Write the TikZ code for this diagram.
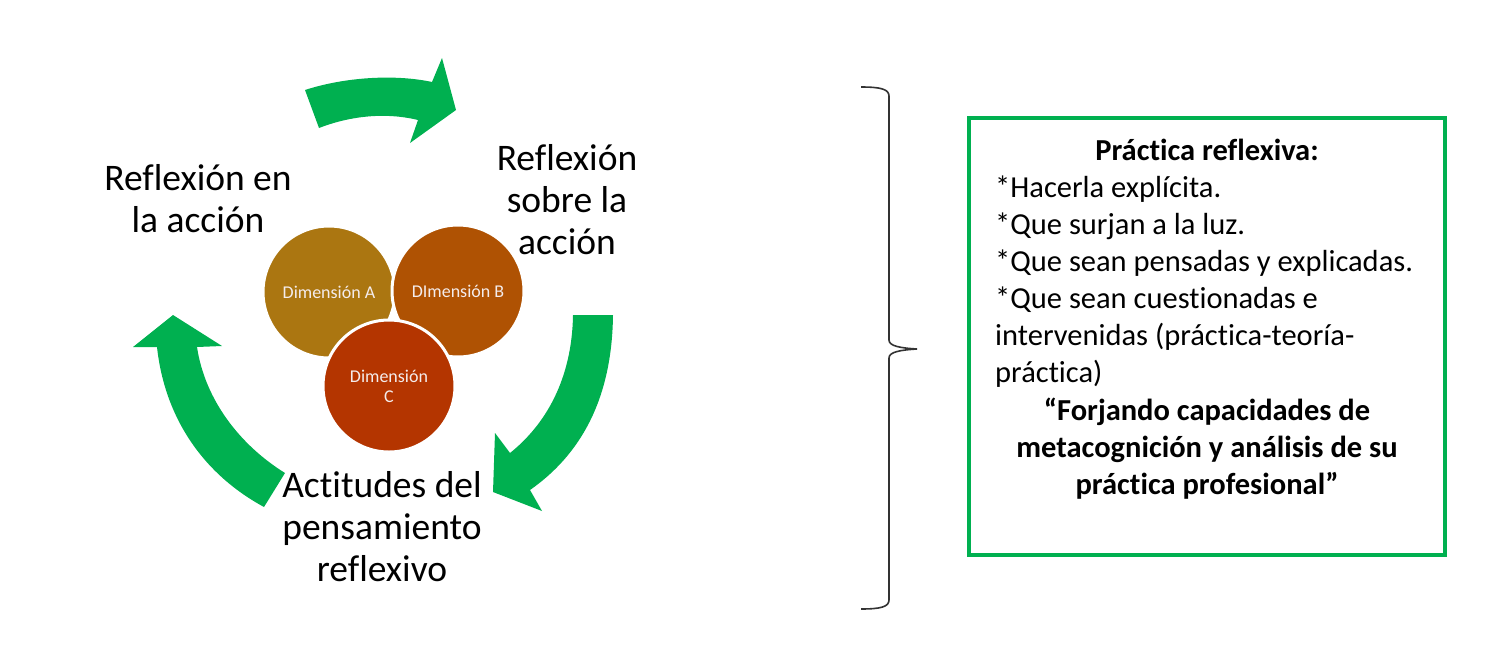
\documentclass[tikz,border=0pt]{standalone}
\usepackage{fontspec}
\setmainfont[Ligatures=NoCommon]{Carlito}
\definecolor{grn}{HTML}{00B050}
\definecolor{dimA}{HTML}{AB7611}
\definecolor{dimB}{HTML}{AF5203}
\definecolor{dimC}{HTML}{B43500}
\definecolor{dimtxt}{HTML}{F4ECEC}
\begin{document}
\begin{tikzpicture}[x=1pt,y=-1pt,
  cyclearrow/.style={fill=grn,draw=none},
  dimcircle/.style={circle,minimum size=132pt,inner sep=0pt,draw=white,line width=3pt,
    text=dimtxt,align=center,font=\fontsize{18}{20}\selectfont},
  biglabel/.style={anchor=base,align=center,inner sep=0pt,font=\fontsize{37.5}{42}\selectfont},
  boxtext/.style={inner sep=0pt,font=\fontsize{30.5}{37}\selectfont}]
\useasboundingbox (0,0) rectangle (1499,659);
% circular arrows
\path[cyclearrow] (305,90) .. controls (345,77) and (395,74) .. (432,82)
  -- (442,58) -- (456,110) -- (410,143) -- (418,120)
  .. controls (385,112) and (350,116) .. (319,128) -- cycle;
\path[cyclearrow] (573,315) -- (613,315) .. controls (612,400) and (580,455) .. (530,490)
  -- (542,511) -- (493,492) -- (495,433) -- (510,453)
  .. controls (545,425) and (572,380) .. (573,315) -- cycle;
\path[cyclearrow] (264,507) .. controls (205,475) and (165,420) .. (157,347)
  -- (133,347) -- (173,315) -- (222,346) -- (197,347)
  .. controls (205,400) and (240,445) .. (285,473) -- cycle;
% circles
\node[dimcircle,fill=dimA] (dA) at (329,292) {Dimensión A};
\node[dimcircle,fill=dimB] (dB) at (458,291) {DImensión B};
\node[dimcircle,fill=dimC] (dC) at (389,386) {Dimensión\\C};
% labels (anchor base = baseline of last line)
\node[biglabel] (l1) at (198,232) {Reflexión en\\la acción};
\node[biglabel] (l2) at (567,254) {Reflexión\\sobre la\\acción};
\node[biglabel] (l3) at (382,581) {Actitudes del\\pensamiento\\reflexivo};
% brace
\draw[line width=1.6pt,black!80] (861,87) .. controls (880,87) and (889,89) .. (889,96)
  -- (889,340) .. controls (889,346) and (900,348) .. (917,349)
  .. controls (900,350) and (889,352) .. (889,358)
  -- (889,600) .. controls (889,607) and (880,609) .. (861,609);
% box
\node[draw=grn,line width=4pt,minimum width=476pt,minimum height=437pt,inner sep=0pt] (box) at (1207,336.5) {};
\node[boxtext,anchor=base,font=\fontsize{30.5}{37}\selectfont\bfseries] (title) at (1207,160) {Práctica reflexiva:};
\node[boxtext,anchor=base west,align=left] (body) at (995,382) {*Hacerla explícita.\\*Que surjan a la luz.\\*Que sean pensadas y explicadas.\\*Que sean cuestionadas e\\intervenidas (práctica-teoría-\\práctica)};
\node[boxtext,anchor=base,align=center,font=\fontsize{30.5}{37}\selectfont\bfseries] (quote) at (1207,494) {“Forjando capacidades de\\metacognición y análisis de su\\práctica profesional”};
\end{tikzpicture}
\end{document}
